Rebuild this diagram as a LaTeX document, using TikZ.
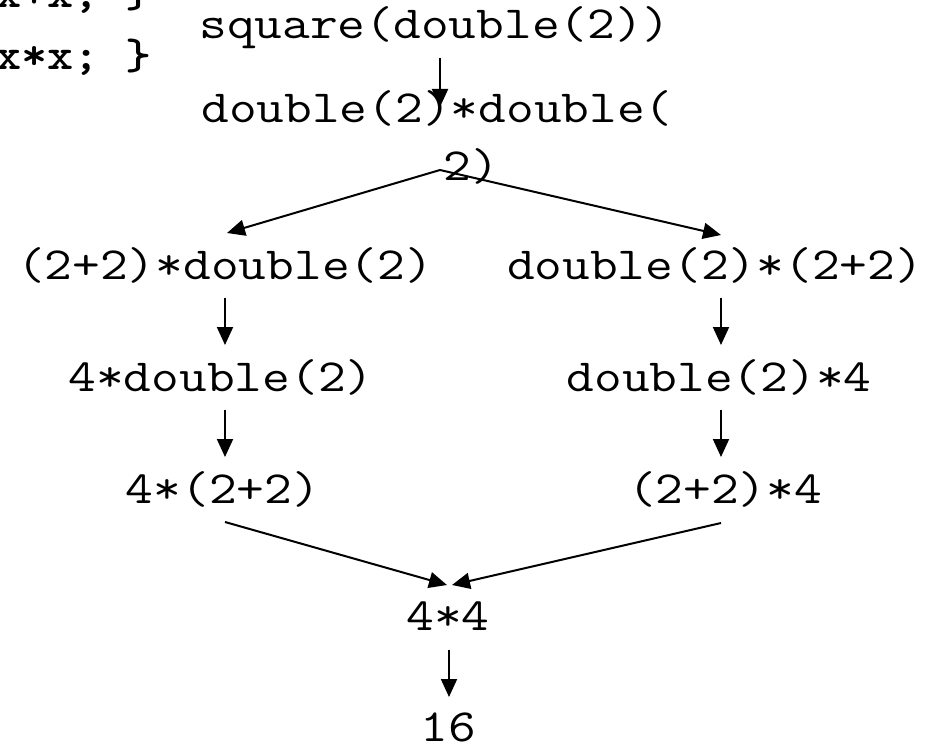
\documentclass[tikz,border=0pt]{standalone}
\usepackage{fontspec}
\usetikzlibrary{arrows.meta}
\newcommand{\wideT}[1]{\scalebox{1.17}[1]{#1}}
\newcommand{\wideB}[1]{\scalebox{1.13}[1]{#1}}
\tikzset{
  expr/.style={font=\fontsize{46}{56}\selectfont\ttfamily, inner sep=0pt, anchor=base},
  code/.style={font=\fontsize{44}{52}\selectfont\ttfamily\bfseries, inner sep=0pt, anchor=base west},
  arr/.style={line width=2pt, -{Triangle[length=18pt,width=16pt]}},
}
\begin{document}
\begin{tikzpicture}[x=1pt,y=-1pt]
\useasboundingbox (0,0) rectangle (941,746);
% code lines (cut off at the top left)
\node[code] (c1) at (-5,8) {\wideB{x+x;\ \}}};
\node[code] (c2) at (-5,70) {\wideB{x*x;\ \}}};
% expressions
\node[expr] (n1) at (435,39) {\wideT{square(double(2))}};
\node[expr] (n2) at (437,123) {\wideT{double(2)*double(}};
\node[expr] (n2b) at (471,180) {\wideT{2)}};
\node[expr] (l1) at (225,279) {\wideT{(2+2)*double(2)}};
\node[expr] (r1) at (715,279) {\wideT{double(2)*(2+2)}};
\node[expr] (l2) at (221,391) {\wideT{4*double(2)}};
\node[expr] (r2) at (719,391) {\wideT{double(2)*4}};
\node[expr] (l3) at (223,503) {\wideT{4*(2+2)}};
\node[expr] (r3) at (725,503) {\wideT{(2+2)*4}};
\node[expr] (m1) at (448,630) {\wideT{4*4}};
\node[expr] (m2) at (448,741) {\wideT{16}};
% connector ends
\coordinate (a1s) at (440,58);  \coordinate (a1e) at (440,107);
\coordinate (apx) at (440,170);
\coordinate (a2e) at (227,233); \coordinate (a3e) at (721,235);
\coordinate (a4s) at (225,298); \coordinate (a4e) at (225,345);
\coordinate (a5s) at (721,298); \coordinate (a5e) at (721,345);
\coordinate (a6s) at (225,410); \coordinate (a6e) at (225,457);
\coordinate (a7s) at (721,410); \coordinate (a7e) at (721,457);
\coordinate (a8s) at (225,522); \coordinate (a8e) at (447,585);
\coordinate (a9s) at (721,523); \coordinate (a9e) at (452,585);
\coordinate (a10s) at (449,650); \coordinate (a10e) at (449,697);
% connectors
\draw[arr] (a1s) -- (a1e);
\draw[arr] (apx) -- (a2e);
\draw[arr] (apx) -- (a3e);
\draw[arr] (a4s) -- (a4e);
\draw[arr] (a5s) -- (a5e);
\draw[arr] (a6s) -- (a6e);
\draw[arr] (a7s) -- (a7e);
\draw[arr] (a8s) -- (a8e);
\draw[arr] (a9s) -- (a9e);
\draw[arr] (a10s) -- (a10e);
\end{tikzpicture}
\end{document}
